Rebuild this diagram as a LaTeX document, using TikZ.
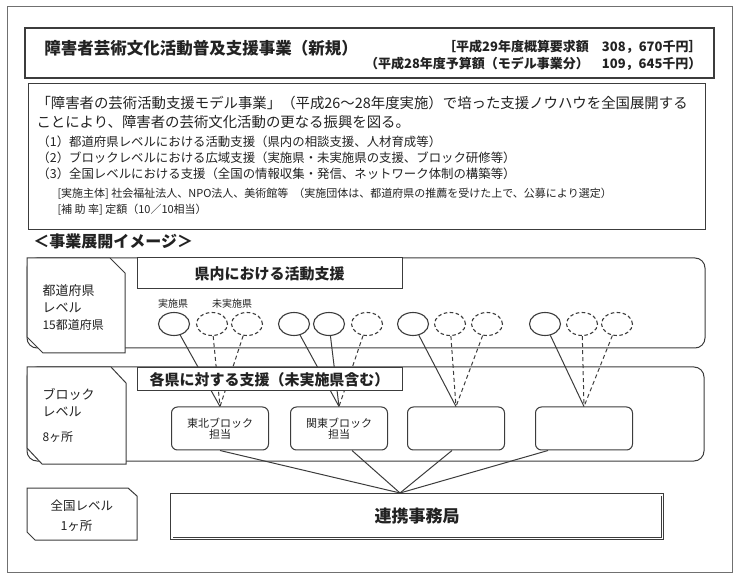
\documentclass[tikz,border=0pt]{standalone}
\usepackage{fontspec}
\setmainfont{Noto Sans CJK JP}
\usetikzlibrary{shapes.geometric}

\definecolor{inkgray}{HTML}{222222}
\definecolor{linegray}{HTML}{3C3C3C}
\definecolor{framegray}{HTML}{707070}

\newcommand{\fsz}[1]{\fontsize{#1}{#1}\selectfont}

\tikzset{
  txt/.style={inner sep=0pt, anchor=west, text=inkgray},
  ctxt/.style={inner sep=0pt, text=inkgray},
  ken/.style={ellipse, draw, fill=white, line width=1.1pt, minimum width=31pt, minimum height=23pt, inner sep=0pt},
  miken/.style={ken, dash pattern=on 3.5pt off 2.5pt},
  dlink/.style={dash pattern=on 4pt off 3pt},
  head/.style={draw, fill=white, minimum width=265pt, inner sep=0pt, text=inkgray, font=\bfseries\fsz{15}},
  blkbox/.style={draw, fill=white, rounded corners=6pt, minimum width=97pt, minimum height=43pt, align=center, inner sep=0pt, text=inkgray, font=\fsz{11}}
}

\begin{document}
\begin{tikzpicture}[x=1pt, y=-1pt, line width=1pt, color=linegray]
  \useasboundingbox (0,0) rectangle (740,580);

  % Outer frame
  \draw[framegray, line width=0.8pt] (7,6) rectangle (732,572);

  % Title
  \draw[line width=1.3pt] (25,28) rectangle (714,78);
  \node[txt, font=\bfseries\fsz{16.5}] (title) at (44,48) {障害者芸術文化活動普及支援事業（新規）};
  \node[ctxt, anchor=east, font=\bfseries\fsz{13}] (bud29) at (702,47) {［平成29年度概算要求額　308，670千円］};
  \node[ctxt, anchor=east, font=\bfseries\fsz{13}] (bud28) at (702,64) {（平成28年度予算額（モデル事業分）　109，645千円）};

  % Summary
  \draw (28,84) rectangle (705,230);
  \node[txt, font=\fsz{14.4}] (sum1) at (36,103) {「障害者の芸術活動支援モデル事業」（平成26～28年度実施）で培った支援ノウハウを全国展開する};
  \node[txt, font=\fsz{14.4}] (sum2) at (36,122) {ことにより、障害者の芸術文化活動の更なる振興を図る。};
  \node[txt, font=\fsz{12.4}] (pt1) at (37,142) {（1）都道府県レベルにおける活動支援（県内の相談支援、人材育成等）};
  \node[txt, font=\fsz{12.4}] (pt2) at (37,158) {（2）ブロックレベルにおける広域支援（実施県・未実施県の支援、ブロック研修等）};
  \node[txt, font=\fsz{12.4}] (pt3) at (37,174) {（3）全国レベルにおける支援（全国の情報収集・発信、ネットワーク体制の構築等）};
  \node[txt, font=\fsz{11}] (shutai) at (57,194) {[実施主体] 社会福祉法人、NPO法人、美術館等 \ （実施団体は、都道府県の推薦を受けた上で、公募により選定）};
  \node[txt, font=\fsz{11}] (hojo) at (57,210) {[補 助 率] 定額（10／10相当）};

  \node[txt, font=\bfseries\fsz{16}] (image) at (33,241) {＜事業展開イメージ＞};

  % Level frames
  \draw[rounded corners=10pt] (27,258) rectangle (705,348);
  \draw[rounded corners=10pt] (27,367) rectangle (704,461);

  % Level labels
  \draw[fill=white] (27,258) -- (110,258) -- (125,273) -- (125,353) -- (43,353) -- (27,337) -- cycle;
  \node[txt, font=\fsz{13}] (lv1a) at (42,291) {都道府県};
  \node[txt, font=\fsz{13}] (lv1b) at (42,308) {レベル};
  \node[txt, font=\fsz{12}] (lv1c) at (42,325) {15都道府県};

  \draw[fill=white] (27,367) -- (111,367) -- (126,383) -- (126,464) -- (42,464) -- (27,448) -- cycle;
  \node[txt, font=\fsz{13}] (lv2a) at (42,394) {ブロック};
  \node[txt, font=\fsz{13}] (lv2b) at (42,412) {レベル};
  \node[txt, font=\fsz{12}] (lv2c) at (42,437) {8ヶ所};

  \draw[fill=white] (27,488) -- (128,488) -- (137,496) -- (137,540) -- (35,540) -- (27,532) -- cycle;
  \node[txt, font=\fsz{12.5}] (lv3a) at (50,506) {全国レベル};
  \node[txt, font=\fsz{12.5}] (lv3b) at (60,526) {1ヶ所};

  % Prefectures
  \node[head, minimum height=31pt] (hken) at (269.5,273.5) {県内における活動支援};
  \node[ctxt, font=\fsz{10}] (jisshi) at (173,304) {実施県};
  \node[ctxt, font=\fsz{10}] (mijisshi) at (232,304) {未実施県};

  \node[ken] (k11) at (174,324) {};
  \node[miken] (k12) at (212,324) {};
  \node[miken] (k13) at (247,324) {};
  \node[ken] (k21) at (294,324) {};
  \node[ken] (k22) at (329,324) {};
  \node[miken] (k23) at (367,324) {};
  \node[ken] (k31) at (413,324) {};
  \node[miken] (k32) at (450,324) {};
  \node[miken] (k33) at (487,324) {};
  \node[ken] (k41) at (545,324) {};
  \node[miken] (k42) at (582,324) {};
  \node[miken] (k43) at (617,324) {};

  % Blocks
  \node[blkbox] (b1) at (220,428.5) {東北ブロック\\担当};
  \node[blkbox] (b2) at (339,428.5) {関東ブロック\\担当};
  \node[blkbox] (b3) at (456,428.5) {};
  \node[blkbox] (b4) at (584,428.5) {};

  % Prefecture to block
  \draw (k11) -- (b1.north);
  \draw[dlink] (k12) -- (b1.north);
  \draw[dlink] (k13) -- (b1.north);
  \draw (k21) -- (b2.north);
  \draw (k22) -- (b2.north);
  \draw[dlink] (k23) -- (b2.north);
  \draw (k31) -- (b3.north);
  \draw[dlink] (k32) -- (b3.north);
  \draw[dlink] (k33) -- (b3.north);
  \draw (k41) -- (b4.north);
  \draw[dlink] (k42) -- (b4.north);
  \draw[dlink] (k43) -- (b4.north);

  \node[head, minimum height=23pt] (hblk) at (269.5,379.5) {各県に対する支援（未実施県含む）};

  % National office
  \node[draw, double, double distance=1.6pt, line width=0.9pt, minimum width=490.6pt, minimum height=43.6pt, inner sep=0pt, text=inkgray, font=\bfseries\fsz{17}] (jimu) at (417,516.5) {連携事務局};
  \coordinate (hub) at (400,493);

  \draw (b1.south) -- (hub);
  \draw ([xshift=13pt]b2.south) -- (hub);
  \draw ([xshift=-4pt]b3.south) -- (hub);
  \draw ([xshift=-36pt]b4.south) -- (hub);
\end{tikzpicture}
\end{document}
